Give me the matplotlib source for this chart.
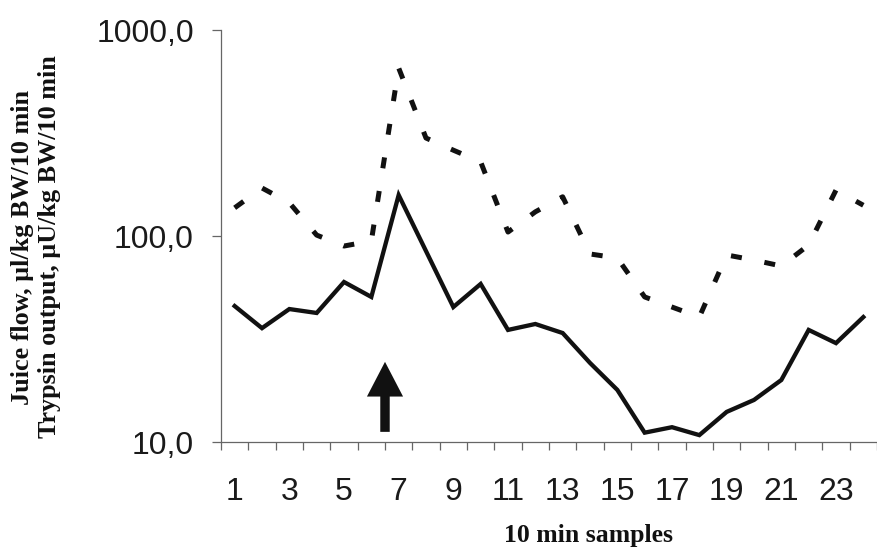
import matplotlib
matplotlib.use("Agg")
import matplotlib.pyplot as plt
import numpy as np

# ---- data ----
samples = list(range(1, 25))
juice_flow = [45.7, 35.7, 44.2, 42.3, 59.8, 50.6, 158, 84.5, 45.2, 58.5, 35.0, 37.4,
              33.8, 24.2, 17.9, 11.1, 11.8, 10.8, 14.0, 16.0, 20.0, 35.0, 30.2, 40.4]
trypsin = [137, 171, 145, 101, 89.4, 94.6, 654, 299, 261, 229, 104.5, 131,
           155, 81.8, 78.2, 50.6, 45.2, 40.4, 80.9, 76.4, 71.5, 90.4, 167, 141]
xtick_vals = list(range(1, 24, 2))
xtick_labels = [str(v) for v in xtick_vals]
ytick_vals = [10, 100, 1000]
ytick_labels = ["10,0", "100,0", "1000,0"]
arrow_x = 6.5
arrow_y_from = 11.2
arrow_y_to = 24.5

fig = plt.figure(figsize=(8.77, 5.47), dpi=100)
fig.patch.set_facecolor("white")
W, H = 877, 547
left_px, right_px, top_px, bottom_px = 221, 877, 30, 442
ax = fig.add_axes([left_px / W, 1 - bottom_px / H, (right_px - left_px) / W, (bottom_px - top_px) / H])

ax.plot(samples, juice_flow, color="#111111", lw=3.1, solid_joinstyle="miter", zorder=3)
ax.plot(samples, trypsin, color="#111111", lw=3.6, linestyle=(0, (2.2, 4.6)),
        dash_capstyle="butt", zorder=3)

ax.set_yscale("log")
ax.set_ylim(10, 1000)
ax.set_xlim(0.5, 0.5 + (right_px - left_px) / 27.4)

ax.set_yticks(ytick_vals)
ax.set_yticklabels(ytick_labels)
ax.yaxis.set_minor_locator(matplotlib.ticker.NullLocator())

ax.set_xticks(xtick_vals)
ax.set_xticklabels(xtick_labels)
ax.set_xticks(np.arange(0.5, 25, 1.0), minor=True)

for s in ["top", "right"]:
    ax.spines[s].set_visible(False)
axis_col = "#666666"
for s in ["left", "bottom"]:
    ax.spines[s].set_color(axis_col)
    ax.spines[s].set_linewidth(0.9)

ax.tick_params(axis="y", which="major", direction="out", length=6.5, width=0.9,
               color=axis_col, pad=13, labelsize=23, labelcolor="#1a1a1a")
ax.tick_params(axis="x", which="major", length=0, pad=25, labelsize=23, labelcolor="#1a1a1a")
ax.tick_params(axis="x", which="minor", direction="out", length=5.8, width=0.9, color=axis_col)
for lab in ax.get_xticklabels() + ax.get_yticklabels():
    lab.set_family("Liberation Sans")

ax.annotate("", xy=(arrow_x, arrow_y_to), xytext=(arrow_x, arrow_y_from),
            arrowprops=dict(arrowstyle="simple,head_length=2.5,head_width=2.6,tail_width=0.68",
                            mutation_scale=10, fc="#111111", ec="none",
                            shrinkA=0, shrinkB=0), zorder=4)

fig.text(36 / W, 1 - 247 / H, "Juice flow, µl/kg BW/10 min\nTrypsin output, µU/kg BW/10 min",
         rotation=90, ha="center", va="center", multialignment="center",
         family="Liberation Serif", fontweight="bold", fontsize=18.8, linespacing=1.25,
         color="#111111")
fig.text(588 / W, 1 - 542 / H, "10 min samples", ha="center", va="baseline",
         family="Liberation Serif", fontweight="bold", fontsize=18.5, color="#111111")

fig.savefig("out.png", dpi=100)
